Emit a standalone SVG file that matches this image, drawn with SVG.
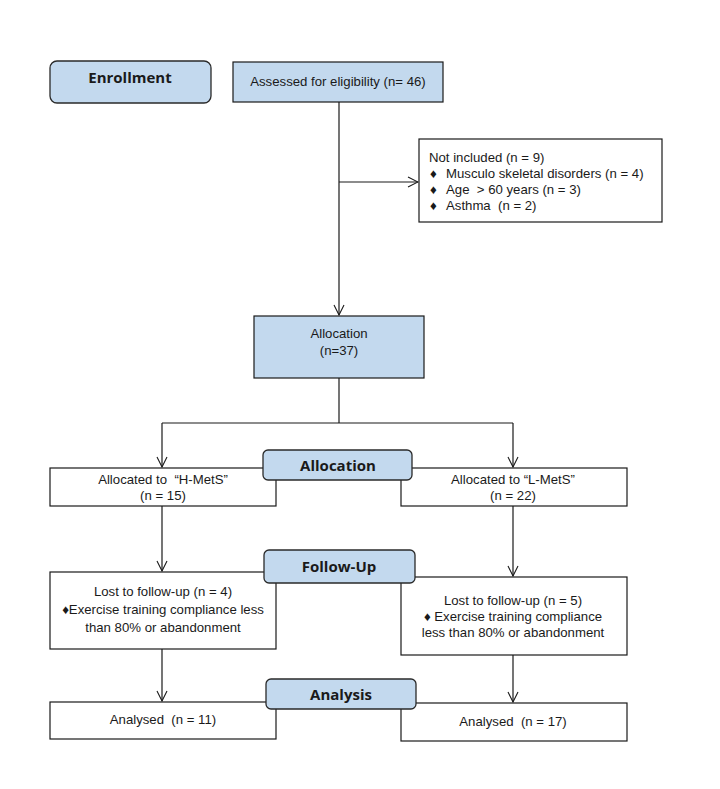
<svg xmlns="http://www.w3.org/2000/svg" width="720" height="789" viewBox="0 0 720 789">
<style>
.bg{fill:#ffffff}
.box{fill:#ffffff;stroke:#1a1a1a;stroke-width:1.2}
.blue{fill:#c3d9ee;stroke:#1a1a1a;stroke-width:1.2}
.lbl{fill:#c3d9ee;stroke:#2a2a2a;stroke-width:1.3}
.t{font-family:"Liberation Sans",Arial,sans-serif;font-size:13.2px;fill:#1a1a1a;white-space:pre}
.c{text-anchor:middle}
.h{font-family:"Open Sans","Liberation Sans",sans-serif;font-weight:bold;font-size:15px;fill:#1a1a1a;text-anchor:middle}
.ln{fill:none;stroke:#1a1a1a;stroke-width:1.2}
</style>
<defs>
<marker id="arr" viewBox="0 0 12 12" refX="11" refY="6" markerWidth="12" markerHeight="12" markerUnits="userSpaceOnUse" orient="auto">
<polyline points="1,1 11,6 1,11" fill="none" stroke="#1a1a1a" stroke-width="1.1"/>
</marker>
</defs>
<rect class="bg" x="0" y="0" width="720" height="789"/>
<g id="connectors">
<line class="ln" x1="339" y1="102" x2="339" y2="315" marker-end="url(#arr)"/>
<line class="ln" x1="339" y1="182" x2="418" y2="182" marker-end="url(#arr)"/>
<polyline class="ln" points="339,378 339,423"/>
<polyline class="ln" points="162,423 513,423"/>
<line class="ln" x1="162" y1="423" x2="162" y2="467" marker-end="url(#arr)"/>
<line class="ln" x1="513" y1="423" x2="513" y2="467" marker-end="url(#arr)"/>
<line class="ln" x1="162" y1="506" x2="162" y2="571" marker-end="url(#arr)"/>
<line class="ln" x1="513" y1="506" x2="513" y2="576" marker-end="url(#arr)"/>
<line class="ln" x1="162" y1="649" x2="162" y2="701" marker-end="url(#arr)"/>
<line class="ln" x1="513" y1="655" x2="513" y2="702" marker-end="url(#arr)"/>
</g>
<g id="enrollment">
<rect class="lbl" x="50" y="61" width="161" height="42" rx="7"/>
<text class="h" x="130" y="83">Enrollment</text>
</g>
<g id="assessed">
<rect class="blue" x="233" y="62" width="210" height="40"/>
<text class="t c" x="338" y="86">Assessed for eligibility (n= 46)</text>
</g>
<g id="not-included">
<rect class="box" x="419" y="139" width="243" height="83"/>
<text class="t" x="429" y="162">Not included (n = 9)</text>
<text class="t" x="430" y="178">♦</text><text class="t" x="446" y="178">Musculo skeletal disorders (n = 4)</text>
<text class="t" x="430" y="194">♦</text><text class="t" x="446" y="194">Age  &gt; 60 years (n = 3)</text>
<text class="t" x="430" y="210">♦</text><text class="t" x="446" y="210">Asthma  (n = 2)</text>
</g>
<g id="allocation">
<rect class="blue" x="254" y="316" width="170" height="62"/>
<text class="t c" x="339" y="338">Allocation</text>
<text class="t c" x="339" y="355">(n=37)</text>
</g>
<g id="alloc-h">
<rect class="box" x="50" y="468" width="226" height="38"/>
<text class="t c" x="163" y="484">Allocated to  “H-MetS”</text>
<text class="t c" x="163" y="500">(n = 15)</text>
</g>
<g id="alloc-l">
<rect class="box" x="401" y="468" width="226" height="38"/>
<text class="t c" x="513" y="484">Allocated to “L-MetS”</text>
<text class="t c" x="513" y="500">(n = 22)</text>
</g>
<g id="lost-h">
<rect class="box" x="50" y="572" width="226" height="77"/>
<text class="t c" x="163" y="596">Lost to follow-up (n = 4)</text>
<text class="t c" x="163" y="614">♦Exercise training compliance less</text>
<text class="t c" x="163" y="632">than 80% or abandonment</text>
</g>
<g id="lost-l">
<rect class="box" x="401" y="577" width="226" height="78"/>
<text class="t c" x="513" y="605">Lost to follow-up (n = 5)</text>
<text class="t c" x="513" y="621">♦ Exercise training compliance</text>
<text class="t c" x="513" y="637">less than 80% or abandonment</text>
</g>
<g id="analysed-h">
<rect class="box" x="50" y="702" width="226" height="37"/>
<text class="t c" x="163" y="724">Analysed  (n = 11)</text>
</g>
<g id="analysed-l">
<rect class="box" x="401" y="703" width="226" height="38"/>
<text class="t c" x="513" y="726">Analysed  (n = 17)</text>
</g>
<g id="label-allocation">
<rect class="lbl" x="263" y="450" width="149" height="30" rx="5"/>
<text class="h" x="338" y="471">Allocation</text>
</g>
<g id="label-followup">
<rect class="lbl" x="264" y="550" width="151" height="33" rx="5"/>
<text class="h" x="339" y="572">Follow-Up</text>
</g>
<g id="label-analysis">
<rect class="lbl" x="266" y="679" width="150" height="30" rx="5"/>
<text class="h" x="341" y="700">Analysis</text>
</g>
</svg>
